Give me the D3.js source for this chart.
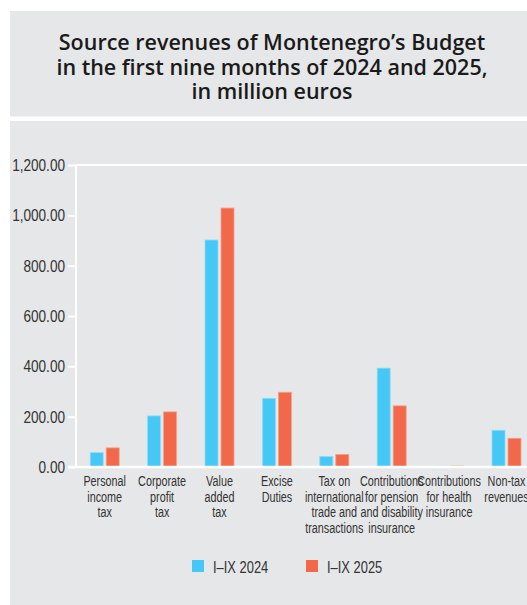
<!DOCTYPE html>
<meta charset="utf-8">
<style>
body { margin: 0; background: #fff; }
svg { display: block; }
.tick text { font-family: "Liberation Sans", Arial, sans-serif; font-size: 17px; fill: #333; }
.cat { font-family: "Liberation Sans", Arial, sans-serif; font-size: 15px; fill: #333; text-anchor: middle; }
.title { font-family: "Open Sans", sans-serif; font-weight: 600; font-size: 21.5px; fill: #1a1a1a; text-anchor: middle; }
.legend text { font-family: "Liberation Sans", Arial, sans-serif; font-size: 17px; fill: #333; }
</style>
<svg width="527" height="605"></svg>
<script src="https://cdn.jsdelivr.net/npm/d3@7"></script>
<script>

var categories = [
  ["Personal", "income", "tax"],
  ["Corporate", "profit", "tax"],
  ["Value", "added", "tax"],
  ["Excise", "Duties"],
  ["Tax on", "international", "trade and", "transactions"],
  ["Contributions", "for pension", "and disability", "insurance"],
  ["Contributions", "for health", "insurance"],
  ["Non-tax", "revenues"]
];
var series = ["I–IX 2024", "I–IX 2025"];
var values2024 = [57, 203, 902, 273, 42, 393, 3, 146];
var values2025 = [76, 219, 1029, 297, 50, 243, 4, 114];
var yTicks = [0, 200, 400, 600, 800, 1000, 1200];
var colors = ["#45C8F5", "#F2684B"];
var strokes = ["#8fdcf7", "#f6a08c"];
var titleLines = ["Source revenues of Montenegro’s Budget", "in the first nine months of 2024 and 2025,", "in million euros"];

var svg = d3.select("svg"),
    width = +svg.attr("width"),
    height = +svg.attr("height");

var narrow = 0.72; // squeeze to mimic the condensed face

// panels
svg.append("rect").attr("x", 10).attr("y", 11).attr("width", width - 10).attr("height", 105.5).attr("fill", "#e6e7e8");
svg.append("rect").attr("x", 10).attr("y", 121).attr("width", width - 10).attr("height", height - 121).attr("fill", "#e6e7e8");

svg.selectAll(".title").data(titleLines).enter().append("text")
    .attr("class", "title")
    .attr("x", 272)
    .attr("y", function(d, i) { return 50 + i * 24.5; })
    .text(function(d) { return d; });

var margin = {left: 76, top: 165, bottom: 467};
var bandW = 57.4;

var x = d3.scaleBand().domain(d3.range(categories.length))
    .range([margin.left, margin.left + bandW * categories.length]);
var y = d3.scaleLinear().domain([0, 1200]).range([margin.bottom, margin.top]);

var g = svg.append("g");

// y axis
var yAxis = g.append("g").attr("transform", "translate(" + margin.left + ",0)")
    .call(d3.axisLeft(y).tickValues(yTicks).tickSize(8).tickPadding(3).tickFormat(d3.format(",.2f")));
yAxis.selectAll("line").attr("stroke", "#fff").attr("stroke-width", 2);
yAxis.select(".domain").attr("stroke", "#fff").attr("stroke-width", 2).attr("d", "M0," + margin.top + "V" + margin.bottom);
yAxis.selectAll("text").attr("x", -11 / 0.8).attr("transform", "scale(0.8,1)");

// top border
g.append("line").attr("x1", margin.left).attr("x2", width).attr("y1", y(1200)).attr("y2", y(1200))
    .attr("stroke", "#fff").attr("stroke-width", 2);

// bars
var barW = 13, gap = 3;
var groups = g.selectAll(".grp").data(categories).enter().append("g")
    .attr("transform", function(d, i) { return "translate(" + (x(i) + x.bandwidth() / 2) + ",0)"; });

[values2024, values2025].forEach(function(vals, s) {
  groups.append("rect")
      .attr("x", s === 0 ? -barW - gap / 2 : gap / 2)
      .attr("y", function(d, i) { return y(vals[i]); })
      .attr("width", barW)
      .attr("height", function(d, i) { return y(0) - y(vals[i]); })
      .attr("fill", colors[s])
      .attr("stroke", strokes[s])
      .attr("stroke-width", 0.8);
});

// x axis line
g.append("line").attr("x1", margin.left - 8).attr("x2", width).attr("y1", y(0)).attr("y2", y(0))
    .attr("stroke", "#fff").attr("stroke-width", 2.5);

// category labels
groups.append("text").attr("class", "cat")
    .attr("transform", "scale(" + narrow + ",1)")
    .selectAll("tspan").data(function(d) { return d; }).enter().append("tspan")
    .attr("x", 0)
    .attr("y", function(d, i) { return 486 + i * 15.7; })
    .text(function(d) { return d; });

// legend
var legend = svg.append("g").attr("class", "legend");
var lx = [192, 306];
series.forEach(function(s, i) {
  legend.append("rect").attr("x", lx[i]).attr("y", 560).attr("width", 12).attr("height", 12).attr("fill", colors[i]);
  legend.append("text").attr("transform", "translate(" + (lx[i] + 21) + ",573) scale(0.76,1)").text(s);
});

</script>
